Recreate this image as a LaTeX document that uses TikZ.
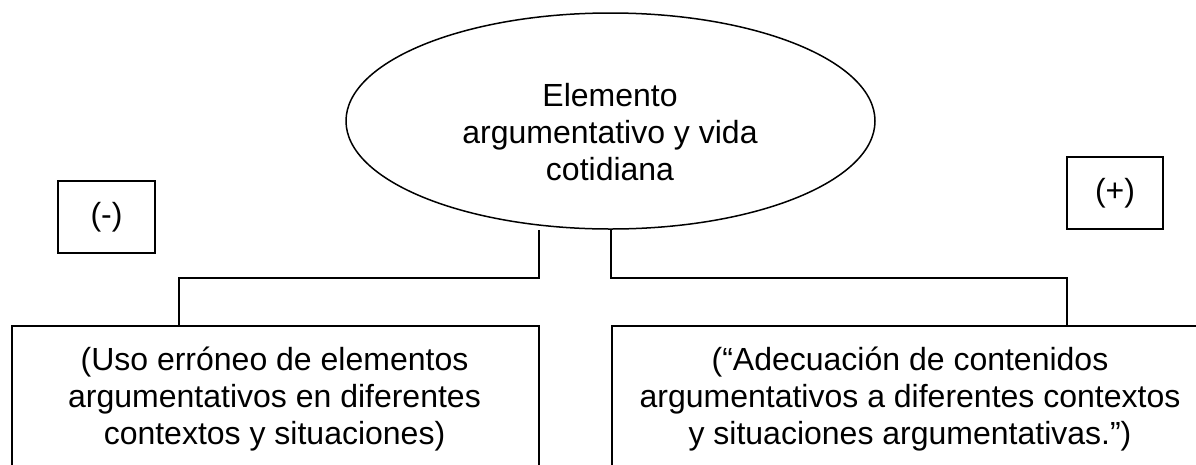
\documentclass[tikz,border=0pt]{standalone}
\usepackage{fontspec}
\setmainfont{Liberation Sans}
\usetikzlibrary{shapes.geometric}
\begin{document}
\begin{tikzpicture}[x=1pt,y=-1pt,
  frame/.style={draw, line width=1.5pt, rectangle, inner sep=0pt},
  oval/.style={draw, line width=1.5pt, ellipse, inner sep=0pt},
  txtstyle/.style={font=\fontsize{32}{36.8}\selectfont, align=center, inner sep=0pt},
  conn/.style={line width=1.5pt}]
\useasboundingbox (0,0) rectangle (1196,464);
\fill[white] (0,0) rectangle (1196,464);
\clip (0,0) rectangle (1196,464);
% central ellipse
\node[oval, minimum width=529pt, minimum height=216pt] (ell) at (610.5,121) {};
\node[txtstyle] (elltxt) at (610,132) {Elemento\\argumentativo y vida\\cotidiana};
% sign boxes
\node[frame, txtstyle, minimum width=97pt, minimum height=72pt] (minus) at (106.5,217) {(-)};
\node[frame, txtstyle, minimum width=96pt, minimum height=72pt] (plus) at (1115,193) {(+)};
% lower boxes (open at the bottom edge of the picture)
\node[frame, minimum width=527pt, minimum height=200pt, anchor=north west] (lbox) at (11,325) {};
\node[frame, minimum width=598pt, minimum height=200pt, anchor=north west] (rbox) at (611,325) {};
\node[txtstyle, anchor=north] (ltxt) at (274.5,347) {(Uso erróneo de elementos\\argumentativos en diferentes\\contextos y situaciones)};
\node[txtstyle, anchor=north] (rtxt) at (910,347) {(“Adecuación de contenidos\\argumentativos a diferentes contextos\\y situaciones argumentativas.”)};
% connectors
\coordinate (lland) at ([xshift=168pt]lbox.north west);
\coordinate (rland) at ([xshift=456pt]rbox.north west);
\coordinate (lstart) at ([xshift=-71.5pt]ell.south);
\coordinate (rstart) at ([xshift=0.5pt]ell.south);
\draw[conn] (lstart) -- ++(0,48) -| (lland);
\draw[conn] (rstart) -- ++(0,48) -| (rland);
\end{tikzpicture}
\end{document}
